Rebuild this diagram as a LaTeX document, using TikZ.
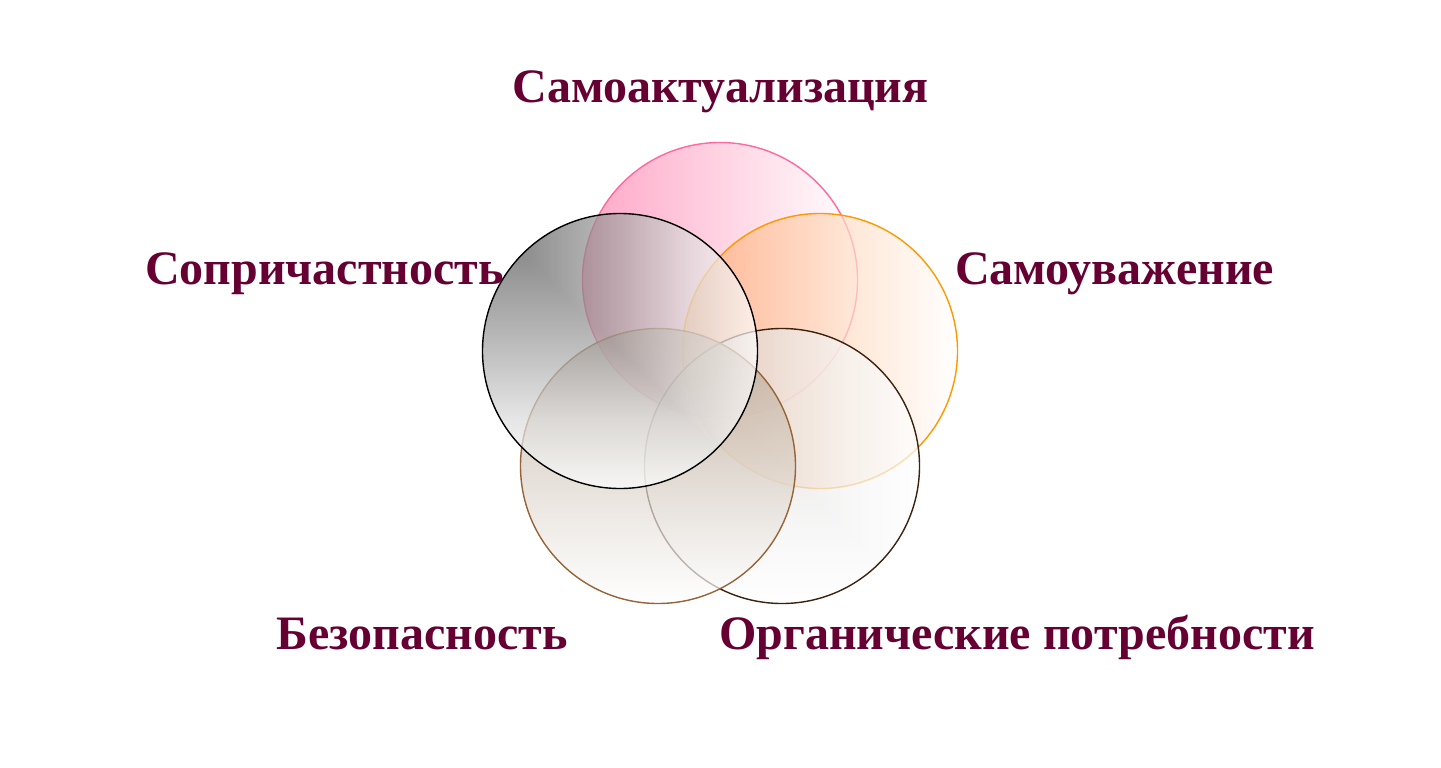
\documentclass[tikz,border=0pt]{standalone}
\usepackage{fontspec}
\setmainfont{Liberation Serif}
\definecolor{lab}{RGB}{102,0,51}
\definecolor{pinkA}{RGB}{255,130,175}
\definecolor{pinkB}{RGB}{255,105,160}
\definecolor{orA}{RGB}{255,170,110}
\definecolor{orB}{RGB}{255,153,0}
\definecolor{brA}{RGB}{180,160,140}
\definecolor{brB}{RGB}{150,100,55}
\definecolor{dbB}{RGB}{60,35,15}
\definecolor{k0}{RGB}{62,62,62}
\definecolor{k1}{RGB}{115,115,115}
\definecolor{k2}{RGB}{165,165,165}
\definecolor{k3}{RGB}{220,220,220}
\definecolor{d0}{RGB}{192,175,162}
\definecolor{d1}{RGB}{215,207,201}
\definecolor{d2}{RGB}{232,230,228}
\definecolor{d3}{RGB}{245,245,245}
% rectangular gradient from the top-left corner, built from two triangles
\pgfdeclareverticalshading{bkV}{100bp}{color(0bp)=(white);color(25bp)=(white);color(37.5bp)=(k3);color(50bp)=(k2);color(62.5bp)=(k1);color(75bp)=(k0);color(100bp)=(k0)}
\pgfdeclarehorizontalshading{bkH}{100bp}{color(0bp)=(k0);color(25bp)=(k0);color(37.5bp)=(k1);color(50bp)=(k2);color(62.5bp)=(k3);color(75bp)=(white);color(100bp)=(white)}
\pgfdeclareverticalshading{dbV}{100bp}{color(0bp)=(white);color(25bp)=(white);color(37.5bp)=(d3);color(50bp)=(d2);color(62.5bp)=(d1);color(75bp)=(d0);color(100bp)=(d0)}
\pgfdeclarehorizontalshading{dbH}{100bp}{color(0bp)=(d0);color(25bp)=(d0);color(37.5bp)=(d1);color(50bp)=(d2);color(62.5bp)=(d3);color(75bp)=(white);color(100bp)=(white)}
\begin{document}
\begin{tikzpicture}[x=1bp,y=-1bp,
  ring/.style={circle,minimum size=275bp,inner sep=0pt,outer sep=0pt,line width=1.4bp,fill opacity=0.7},
  spot/.style={circle,minimum size=275bp,inner sep=0pt,outer sep=0pt},
  rim/.style={line width=1.4bp},
  tri/.style={fill opacity=0.7},
  lbl/.style={inner sep=0pt,anchor=base,text=lab,font=\fontsize{48bp}{56bp}\selectfont\bfseries}]
\useasboundingbox[fill=white] (0,0) rectangle (1441,767);
% pink
\node[ring,draw=pinkB,left color=pinkA,right color=white] (sa) at (720,280) {};
% orange
\node[ring,draw=orB,left color=orA,right color=white] (su) at (820,351) {};
% dark brown
\node[spot] (op) at (782,466) {};
\begin{scope}
  \clip (op.center) circle[radius=137.5];
  \shade[tri,shading=dbV] (op.west|-op.north) -- (op.east|-op.south) -- (op.west|-op.south) -- cycle;
  \shade[tri,shading=dbH] (op.west|-op.north) -- (op.east|-op.north) -- (op.east|-op.south) -- cycle;
\end{scope}
\draw[rim,draw=dbB] (op.center) circle[radius=137.5];
% brown
\node[ring,draw=brB,top color=brA,bottom color=white] (bz) at (658,466) {};
% black
\node[spot] (so) at (620,351) {};
\begin{scope}
  \clip (so.center) circle[radius=137.5];
  \shade[tri,shading=bkV] (so.west|-so.north) -- (so.east|-so.south) -- (so.west|-so.south) -- cycle;
  \shade[tri,shading=bkH] (so.west|-so.north) -- (so.east|-so.north) -- (so.east|-so.south) -- cycle;
\end{scope}
\draw[rim,draw=black] (so.center) circle[radius=137.5];
% labels
\node[lbl] (tsa) at (720.5,102) {Самоактуализация};
\node[lbl] (tso) at (324.5,284) {Сопричастность};
\node[lbl] (tsu) at (1114.5,284) {Самоуважение};
\node[lbl] (tbz) at (422,649) {Безопасность};
\node[lbl] (top) at (1017,649) {Органические потребности};
\end{tikzpicture}
\end{document}
